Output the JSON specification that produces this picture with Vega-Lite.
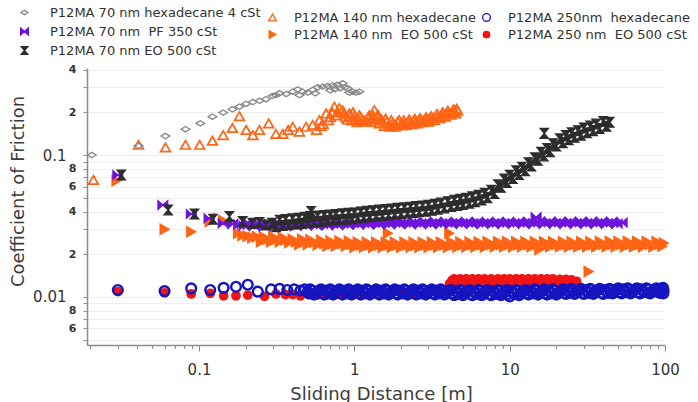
{
  "$schema": "https://vega.github.io/schema/vega-lite/v6.json",
  "width": 578,
  "height": 277,
  "autosize": {"type": "none"},
  "padding": {"left": 87, "top": 68, "right": 33, "bottom": 57},
  "background": "white",
  "datasets": {
    "runs": [
      {"k": "A", "run": "P12MA 70 nm hexadecane 4 cSt"},
      {"k": "B", "run": "P12MA 140 nm hexadecane"},
      {"k": "F", "run": "P12MA 250nm\u00a0 hexadecane"},
      {"k": "C", "run": "P12MA 70 nm\u00a0 PF 350 cSt"},
      {"k": "E", "run": "P12MA 140 nm\u00a0 EO 500 cSt"},
      {"k": "G", "run": "P12MA 250 nm\u00a0 EO 500 cSt"},
      {"k": "D", "run": "P12MA 70 nm EO 500 cSt"}
    ],
    "points": [
      {"k":"E","x":0.0294,"y":0.066},{"k":"E","x":0.060,"y":0.030},{"k":"E","x":0.089,"y":0.0288},{"k":"E","x":0.117,"y":0.034},{"k":"E","x":0.143,"y":0.0345},{"k":"E","x":0.178,"y":0.0281},
      {"k":"E","x":0.19,"y":0.0272},{"k":"E","x":0.205,"y":0.0268},{"k":"E","x":0.22,"y":0.0262},{"k":"E","x":0.235,"y":0.0266},
      {"k":"E","x":0.25,"y":0.0245},{"k":"E","x":0.26,"y":0.0265},{"k":"E","x":0.275,"y":0.0255},{"k":"E","x":0.29,"y":0.0245},{"k":"E","x":0.30,"y":0.0265},{"k":"E","x":0.315,"y":0.0255},{"k":"E","x":0.33,"y":0.0245},{"k":"E","x":0.345,"y":0.0262},{"k":"E","x":0.36,"y":0.0252},{"k":"E","x":0.38,"y":0.0242},
      {"k":"E","x":0.40,"y":0.0255},{"k":"E","x":0.42,"y":0.0245},{"k":"E","x":0.44,"y":0.0235},{"k":"E","x":0.46,"y":0.0255},{"k":"E","x":0.48,"y":0.0245},{"k":"E","x":0.50,"y":0.0235},{"k":"E","x":0.52,"y":0.0253},{"k":"E","x":0.55,"y":0.0243},{"k":"E","x":0.58,"y":0.0233},{"k":"E","x":0.61,"y":0.0251},
      {"k":"E","x":0.64,"y":0.0238},{"k":"E","x":0.67,"y":0.0229},{"k":"E","x":0.70,"y":0.0248},{"k":"E","x":0.73,"y":0.0238},{"k":"E","x":0.76,"y":0.0229},{"k":"E","x":0.80,"y":0.0248},{"k":"E","x":0.84,"y":0.0238},{"k":"E","x":0.88,"y":0.0229},{"k":"E","x":0.92,"y":0.0247},{"k":"E","x":0.96,"y":0.0236},
      {"k":"E","x":1.0,"y":0.0224},{"k":"E","x":1.05,"y":0.0243},{"k":"E","x":1.1,"y":0.0233},{"k":"E","x":1.15,"y":0.0224},{"k":"E","x":1.2,"y":0.0243},{"k":"E","x":1.26,"y":0.0233},{"k":"E","x":1.32,"y":0.0224},{"k":"E","x":1.38,"y":0.0243},{"k":"E","x":1.45,"y":0.0233},{"k":"E","x":1.52,"y":0.0224},
      {"k":"E","x":1.59,"y":0.0243},{"k":"E","x":1.64,"y":0.0281},{"k":"E","x":1.66,"y":0.0233},{"k":"E","x":1.74,"y":0.0224},{"k":"E","x":1.82,"y":0.0243},{"k":"E","x":1.9,"y":0.0233},{"k":"E","x":2.0,"y":0.0224},{"k":"E","x":2.1,"y":0.0243},{"k":"E","x":2.2,"y":0.0233},{"k":"E","x":2.3,"y":0.0224},
      {"k":"E","x":2.4,"y":0.0243},{"k":"E","x":2.5,"y":0.0233},{"k":"E","x":2.62,"y":0.0224},{"k":"E","x":2.75,"y":0.0243},{"k":"E","x":2.88,"y":0.0233},{"k":"E","x":3.0,"y":0.0224},{"k":"E","x":3.15,"y":0.0243},{"k":"E","x":3.3,"y":0.0233},{"k":"E","x":3.45,"y":0.0224},{"k":"E","x":3.6,"y":0.0243},
      {"k":"E","x":3.8,"y":0.0233},{"k":"E","x":4.0,"y":0.0224},{"k":"E","x":4.08,"y":0.0281},{"k":"E","x":4.2,"y":0.0244},{"k":"E","x":4.4,"y":0.0234},{"k":"E","x":4.6,"y":0.0225},{"k":"E","x":4.8,"y":0.0244},{"k":"E","x":5.0,"y":0.0234},{"k":"E","x":5.25,"y":0.0225},{"k":"E","x":5.5,"y":0.0244},
      {"k":"E","x":5.75,"y":0.0234},{"k":"E","x":6.0,"y":0.0225},{"k":"E","x":6.3,"y":0.0244},{"k":"E","x":6.6,"y":0.0234},{"k":"E","x":6.9,"y":0.0225},{"k":"E","x":7.2,"y":0.0245},{"k":"E","x":7.6,"y":0.0235},{"k":"E","x":8.0,"y":0.0226},{"k":"E","x":8.4,"y":0.0245},{"k":"E","x":8.8,"y":0.0235},
      {"k":"E","x":9.2,"y":0.0226},{"k":"E","x":9.6,"y":0.0245},{"k":"E","x":10,"y":0.0235},{"k":"E","x":10.5,"y":0.0226},{"k":"E","x":11,"y":0.0245},{"k":"E","x":11.5,"y":0.0235},{"k":"E","x":12,"y":0.0226},{"k":"E","x":12.6,"y":0.0245},{"k":"E","x":13.2,"y":0.0235},{"k":"E","x":13.8,"y":0.0226},
      {"k":"E","x":14.5,"y":0.0245},{"k":"E","x":15.2,"y":0.0235},{"k":"E","x":15.5,"y":0.0216},{"k":"E","x":15.9,"y":0.0226},{"k":"E","x":16.6,"y":0.0245},{"k":"E","x":17.4,"y":0.0235},{"k":"E","x":18.2,"y":0.0226},{"k":"E","x":19,"y":0.0245},{"k":"E","x":20,"y":0.0235},{"k":"E","x":21,"y":0.0226},
      {"k":"E","x":22,"y":0.0245},{"k":"E","x":23,"y":0.0235},{"k":"E","x":24,"y":0.0226},{"k":"E","x":25,"y":0.0245},{"k":"E","x":26.2,"y":0.0235},{"k":"E","x":27.5,"y":0.0226},{"k":"E","x":28.8,"y":0.0245},{"k":"E","x":30,"y":0.0235},{"k":"E","x":31.5,"y":0.0226},{"k":"E","x":33,"y":0.0245},
      {"k":"E","x":34.5,"y":0.0235},{"k":"E","x":36,"y":0.0226},{"k":"E","x":38,"y":0.0246},{"k":"E","x":40,"y":0.0236},{"k":"E","x":42,"y":0.0226},{"k":"E","x":44,"y":0.0246},{"k":"E","x":46,"y":0.0236},{"k":"E","x":48,"y":0.0226},{"k":"E","x":50,"y":0.0246},{"k":"E","x":52.5,"y":0.0236},
      {"k":"E","x":55,"y":0.0226},{"k":"E","x":57.5,"y":0.0246},{"k":"E","x":60,"y":0.0236},{"k":"E","x":63,"y":0.0226},{"k":"E","x":66,"y":0.0246},{"k":"E","x":69,"y":0.0236},{"k":"E","x":72,"y":0.0226},{"k":"E","x":76,"y":0.0246},{"k":"E","x":80,"y":0.0236},{"k":"E","x":84,"y":0.0226},
      {"k":"E","x":88,"y":0.0245},{"k":"E","x":92,"y":0.0236},{"k":"E","x":96,"y":0.0228},{"k":"E","x":98,"y":0.0240},{"k":"E","x":32.2,"y":0.0151},

      {"k":"C","x":0.030,"y":0.0723},{"k":"C","x":0.0585,"y":0.0444},{"k":"C","x":0.0892,"y":0.0384},{"k":"C","x":0.116,"y":0.0358},{"k":"C","x":0.143,"y":0.033},{"k":"C","x":0.165,"y":0.0327},
      {"k":"C","x":0.18,"y":0.0325},{"k":"C","x":0.195,"y":0.0318},{"k":"C","x":0.21,"y":0.0328},{"k":"C","x":0.227,"y":0.0316},{"k":"C","x":0.245,"y":0.0326},{"k":"C","x":0.265,"y":0.0315},{"k":"C","x":0.286,"y":0.0324},{"k":"C","x":0.31,"y":0.0316},{"k":"C","x":0.334,"y":0.0325},{"k":"C","x":0.36,"y":0.0317},
      {"k":"C","x":0.39,"y":0.0326},{"k":"C","x":0.42,"y":0.0318},{"k":"C","x":0.455,"y":0.0327},{"k":"C","x":0.49,"y":0.0319},{"k":"C","x":0.53,"y":0.0328},{"k":"C","x":0.57,"y":0.032},{"k":"C","x":0.62,"y":0.0329},{"k":"C","x":0.67,"y":0.0321},{"k":"C","x":0.72,"y":0.033},{"k":"C","x":0.78,"y":0.0322},
      {"k":"C","x":0.84,"y":0.0331},{"k":"C","x":0.91,"y":0.0323},{"k":"C","x":0.98,"y":0.0332},{"k":"C","x":1.06,"y":0.0324},{"k":"C","x":1.14,"y":0.0334},{"k":"C","x":1.23,"y":0.0325},{"k":"C","x":1.33,"y":0.0335},{"k":"C","x":1.44,"y":0.0326},{"k":"C","x":1.55,"y":0.0335},{"k":"C","x":1.68,"y":0.0326},
      {"k":"C","x":1.81,"y":0.0336},{"k":"C","x":1.95,"y":0.0327},{"k":"C","x":2.11,"y":0.0336},{"k":"C","x":2.28,"y":0.0327},{"k":"C","x":2.46,"y":0.0336},{"k":"C","x":2.66,"y":0.0327},{"k":"C","x":2.87,"y":0.0337},{"k":"C","x":3.1,"y":0.0327},{"k":"C","x":3.35,"y":0.0337},{"k":"C","x":3.62,"y":0.0328},
      {"k":"C","x":3.9,"y":0.0337},{"k":"C","x":4.2,"y":0.0328},{"k":"C","x":4.55,"y":0.0337},{"k":"C","x":4.9,"y":0.0328},{"k":"C","x":5.3,"y":0.0337},{"k":"C","x":5.7,"y":0.0328},{"k":"C","x":6.2,"y":0.0337},{"k":"C","x":6.7,"y":0.0328},{"k":"C","x":7.2,"y":0.0337},{"k":"C","x":7.8,"y":0.0328},
      {"k":"C","x":8.4,"y":0.0337},{"k":"C","x":9.1,"y":0.0328},{"k":"C","x":9.8,"y":0.0337},{"k":"C","x":10.6,"y":0.0328},{"k":"C","x":11.4,"y":0.0337},{"k":"C","x":12.3,"y":0.0328},{"k":"C","x":13.3,"y":0.0338},{"k":"C","x":14.4,"y":0.0329},{"k":"C","x":14.8,"y":0.0365},{"k":"C","x":15.5,"y":0.0338},
      {"k":"C","x":16.8,"y":0.0329},{"k":"C","x":18.1,"y":0.0338},{"k":"C","x":19.5,"y":0.0329},{"k":"C","x":21.1,"y":0.0338},{"k":"C","x":22.8,"y":0.0329},{"k":"C","x":24.6,"y":0.0338},{"k":"C","x":26.6,"y":0.0329},{"k":"C","x":28.7,"y":0.0338},{"k":"C","x":31,"y":0.0329},{"k":"C","x":33.5,"y":0.0338},
      {"k":"C","x":36.2,"y":0.0329},{"k":"C","x":39,"y":0.0338},{"k":"C","x":42.2,"y":0.0329},{"k":"C","x":45.5,"y":0.0338},{"k":"C","x":49.2,"y":0.0329},{"k":"C","x":53,"y":0.0334},

      {"k":"D","x":0.0316,"y":0.0723},{"k":"D","x":0.0633,"y":0.041},{"k":"D","x":0.0935,"y":0.0384},{"k":"D","x":0.123,"y":0.0353},{"k":"D","x":0.157,"y":0.0368},{"k":"D","x":0.191,"y":0.034},{"k":"D","x":0.22,"y":0.033},{"k":"D","x":0.245,"y":0.0335},{"k":"D","x":0.27,"y":0.0321},{"k":"D","x":0.295,"y":0.033},{"k":"D","x":0.313,"y":0.0313},
      {"k":"D","x":0.33,"y":0.0347},{"k":"D","x":0.345,"y":0.0319},{"k":"D","x":0.36,"y":0.0351},{"k":"D","x":0.38,"y":0.0323},{"k":"D","x":0.40,"y":0.0355},{"k":"D","x":0.42,"y":0.0327},{"k":"D","x":0.44,"y":0.0359},{"k":"D","x":0.46,"y":0.0330},{"k":"D","x":0.48,"y":0.0364},{"k":"D","x":0.50,"y":0.0334},
      {"k":"D","x":0.52,"y":0.0368},{"k":"D","x":0.527,"y":0.0400},{"k":"D","x":0.55,"y":0.0338},{"k":"D","x":0.58,"y":0.0372},{"k":"D","x":0.61,"y":0.0342},{"k":"D","x":0.64,"y":0.0375},{"k":"D","x":0.67,"y":0.0345},{"k":"D","x":0.70,"y":0.0378},{"k":"D","x":0.73,"y":0.0348},{"k":"D","x":0.76,"y":0.0381},
      {"k":"D","x":0.80,"y":0.0350},{"k":"D","x":0.84,"y":0.0385},{"k":"D","x":0.88,"y":0.0353},{"k":"D","x":0.92,"y":0.0388},{"k":"D","x":0.96,"y":0.0356},{"k":"D","x":1.0,"y":0.0391},{"k":"D","x":1.05,"y":0.0360},{"k":"D","x":1.1,"y":0.0397},{"k":"D","x":1.15,"y":0.0365},{"k":"D","x":1.2,"y":0.0401},
      {"k":"D","x":1.26,"y":0.0369},{"k":"D","x":1.32,"y":0.0405},{"k":"D","x":1.38,"y":0.0372},{"k":"D","x":1.45,"y":0.0409},{"k":"D","x":1.52,"y":0.0375},{"k":"D","x":1.59,"y":0.0413},{"k":"D","x":1.66,"y":0.0379},{"k":"D","x":1.74,"y":0.0417},{"k":"D","x":1.82,"y":0.0383},{"k":"D","x":1.9,"y":0.0421},
      {"k":"D","x":2.0,"y":0.0387},{"k":"D","x":2.1,"y":0.0425},{"k":"D","x":2.2,"y":0.0391},{"k":"D","x":2.3,"y":0.0429},{"k":"D","x":2.4,"y":0.0394},{"k":"D","x":2.5,"y":0.0434},{"k":"D","x":2.62,"y":0.0398},{"k":"D","x":2.75,"y":0.0438},{"k":"D","x":2.88,"y":0.0402},{"k":"D","x":3.0,"y":0.0442},
      {"k":"D","x":3.15,"y":0.0408},{"k":"D","x":3.3,"y":0.0450},{"k":"D","x":3.45,"y":0.0415},{"k":"D","x":3.6,"y":0.0459},{"k":"D","x":3.8,"y":0.0424},{"k":"D","x":4.0,"y":0.0469},{"k":"D","x":4.2,"y":0.0434},{"k":"D","x":4.4,"y":0.0479},{"k":"D","x":4.6,"y":0.0441},{"k":"D","x":4.8,"y":0.0487},
      {"k":"D","x":5.0,"y":0.0449},{"k":"D","x":5.25,"y":0.0496},{"k":"D","x":5.5,"y":0.0458},{"k":"D","x":5.75,"y":0.0507},{"k":"D","x":6.0,"y":0.0468},{"k":"D","x":6.3,"y":0.0520},{"k":"D","x":6.6,"y":0.0483},{"k":"D","x":6.9,"y":0.0537},{"k":"D","x":7.2,"y":0.0501},{"k":"D","x":7.6,"y":0.0564},
      {"k":"D","x":8.0,"y":0.0535},{"k":"D","x":8.4,"y":0.0617},{"k":"D","x":8.8,"y":0.0592},{"k":"D","x":9.2,"y":0.0677},{"k":"D","x":9.6,"y":0.0640},{"k":"D","x":10,"y":0.0721},{"k":"D","x":10.5,"y":0.0683},{"k":"D","x":11,"y":0.0773},{"k":"D","x":11.5,"y":0.0728},{"k":"D","x":12,"y":0.0820},
      {"k":"D","x":12.6,"y":0.0774},{"k":"D","x":13.2,"y":0.0883},{"k":"D","x":13.8,"y":0.0836},{"k":"D","x":14.5,"y":0.0956},{"k":"D","x":15.2,"y":0.0917},{"k":"D","x":15.9,"y":0.1045},{"k":"D","x":16.6,"y":0.0984},{"k":"D","x":16.7,"y":0.1420},{"k":"D","x":17.4,"y":0.1113},{"k":"D","x":18.2,"y":0.1055},
      {"k":"D","x":19,"y":0.1202},{"k":"D","x":20,"y":0.1156},{"k":"D","x":21,"y":0.1301},{"k":"D","x":22,"y":0.1222},{"k":"D","x":23,"y":0.1369},{"k":"D","x":24,"y":0.1280},{"k":"D","x":25,"y":0.1432},{"k":"D","x":26.2,"y":0.1332},{"k":"D","x":27.5,"y":0.1484},{"k":"D","x":28.8,"y":0.1380},
      {"k":"D","x":30,"y":0.1547},{"k":"D","x":31.5,"y":0.1433},{"k":"D","x":33,"y":0.1599},{"k":"D","x":34.5,"y":0.1485},{"k":"D","x":36,"y":0.1651},{"k":"D","x":38,"y":0.1538},{"k":"D","x":40,"y":0.1724},{"k":"D","x":42,"y":0.1595},{"k":"D","x":44,"y":0.1700},

      {"k":"B","x":0.0209,"y":0.0667},{"k":"B","x":0.0408,"y":0.118},{"k":"B","x":0.0608,"y":0.113},{"k":"B","x":0.0818,"y":0.118},{"k":"B","x":0.101,"y":0.118},{"k":"B","x":0.122,"y":0.126},{"k":"B","x":0.143,"y":0.138},{"k":"B","x":0.164,"y":0.155},{"k":"B","x":0.182,"y":0.188},{"k":"B","x":0.201,"y":0.150},
      {"k":"B","x":0.222,"y":0.138},{"k":"B","x":0.245,"y":0.150},{"k":"B","x":0.281,"y":0.167},{"k":"B","x":0.313,"y":0.141},{"k":"B","x":0.346,"y":0.141},{"k":"B","x":0.375,"y":0.150},{"k":"B","x":0.401,"y":0.158},{"k":"B","x":0.443,"y":0.146},{"k":"B","x":0.489,"y":0.158},{"k":"B","x":0.539,"y":0.163},
      {"k":"B","x":0.57,"y":0.150},{"k":"B","x":0.596,"y":0.176},{"k":"B","x":0.61,"y":0.160},{"k":"B","x":0.63,"y":0.165},{"k":"B","x":0.658,"y":0.196},{"k":"B","x":0.68,"y":0.176},{"k":"B","x":0.70,"y":0.185},{"k":"B","x":0.72,"y":0.200},{"k":"B","x":0.744,"y":0.219},{"k":"B","x":0.76,"y":0.190},
      {"k":"B","x":0.78,"y":0.200},{"k":"B","x":0.80,"y":0.214},{"k":"B","x":0.841,"y":0.207},{"k":"B","x":0.86,"y":0.196},{"k":"B","x":0.88,"y":0.185},{"k":"B","x":0.90,"y":0.178},{"k":"B","x":0.929,"y":0.196},{"k":"B","x":0.94,"y":0.188},{"k":"B","x":0.96,"y":0.175},{"k":"B","x":0.98,"y":0.200},
      {"k":"B","x":1.0,"y":0.190},{"k":"B","x":1.02,"y":0.182},{"k":"B","x":1.04,"y":0.170},{"k":"B","x":1.06,"y":0.176},{"k":"B","x":1.077,"y":0.191},{"k":"B","x":1.1,"y":0.185},{"k":"B","x":1.12,"y":0.178},{"k":"B","x":1.16,"y":0.174},{"k":"B","x":1.2,"y":0.172},{"k":"B","x":1.22,"y":0.183},
      {"k":"B","x":1.25,"y":0.191},{"k":"B","x":1.28,"y":0.172},{"k":"B","x":1.3,"y":0.180},{"k":"B","x":1.32,"y":0.190},{"k":"B","x":1.345,"y":0.207},{"k":"B","x":1.37,"y":0.178},{"k":"B","x":1.4,"y":0.185},{"k":"B","x":1.42,"y":0.192},{"k":"B","x":1.448,"y":0.167},{"k":"B","x":1.47,"y":0.176},
      {"k":"B","x":1.5,"y":0.178},{"k":"B","x":1.53,"y":0.168},{"k":"B","x":1.56,"y":0.160},{"k":"B","x":1.59,"y":0.180},{"k":"B","x":1.62,"y":0.172},{"k":"B","x":1.66,"y":0.162},{"k":"B","x":1.7,"y":0.158},{"k":"B","x":1.73,"y":0.176},{"k":"B","x":1.76,"y":0.168},{"k":"B","x":1.8,"y":0.164},
      {"k":"B","x":1.83,"y":0.158},{"k":"B","x":1.87,"y":0.162},{"k":"B","x":1.9,"y":0.172},{"k":"B","x":1.95,"y":0.176},{"k":"B","x":2.0,"y":0.162},{"k":"B","x":2.04,"y":0.168},{"k":"B","x":2.08,"y":0.176},{"k":"B","x":2.12,"y":0.166},{"k":"B","x":2.16,"y":0.162},{"k":"B","x":2.21,"y":0.172},
      {"k":"B","x":2.26,"y":0.178},{"k":"B","x":2.3,"y":0.170},{"k":"B","x":2.35,"y":0.165},{"k":"B","x":2.4,"y":0.174},{"k":"B","x":2.45,"y":0.180},{"k":"B","x":2.5,"y":0.172},{"k":"B","x":2.55,"y":0.167},{"k":"B","x":2.6,"y":0.176},{"k":"B","x":2.65,"y":0.182},{"k":"B","x":2.7,"y":0.176},
      {"k":"B","x":2.76,"y":0.170},{"k":"B","x":2.82,"y":0.178},{"k":"B","x":2.89,"y":0.184},{"k":"B","x":2.95,"y":0.180},{"k":"B","x":3.0,"y":0.172},{"k":"B","x":3.06,"y":0.182},{"k":"B","x":3.13,"y":0.188},{"k":"B","x":3.2,"y":0.182},{"k":"B","x":3.27,"y":0.176},{"k":"B","x":3.33,"y":0.186},
      {"k":"B","x":3.4,"y":0.195},{"k":"B","x":3.48,"y":0.188},{"k":"B","x":3.55,"y":0.182},{"k":"B","x":3.62,"y":0.190},{"k":"B","x":3.70,"y":0.200},{"k":"B","x":3.77,"y":0.194},{"k":"B","x":3.85,"y":0.186},{"k":"B","x":3.92,"y":0.196},{"k":"B","x":4.0,"y":0.205},{"k":"B","x":4.09,"y":0.198},
      {"k":"B","x":4.18,"y":0.192},{"k":"B","x":4.26,"y":0.200},{"k":"B","x":4.35,"y":0.210},{"k":"B","x":4.43,"y":0.203},{"k":"B","x":4.5,"y":0.196},{"k":"B","x":4.56,"y":0.212},{"k":"B","x":4.62,"y":0.205},

      {"k":"A","x":0.0204,"y":0.100},{"k":"A","x":0.0408,"y":0.116},{"k":"A","x":0.0608,"y":0.136},{"k":"A","x":0.0818,"y":0.152},{"k":"A","x":0.102,"y":0.167},{"k":"A","x":0.122,"y":0.186},{"k":"A","x":0.143,"y":0.199},{"k":"A","x":0.164,"y":0.210},{"k":"A","x":0.182,"y":0.219},{"k":"A","x":0.201,"y":0.229},
      {"k":"A","x":0.222,"y":0.236},{"k":"A","x":0.245,"y":0.241},{"k":"A","x":0.27,"y":0.247},{"k":"A","x":0.298,"y":0.261},{"k":"A","x":0.313,"y":0.264},{"k":"A","x":0.329,"y":0.272},{"k":"A","x":0.364,"y":0.269},{"k":"A","x":0.401,"y":0.279},{"k":"A","x":0.432,"y":0.290},{"k":"A","x":0.443,"y":0.264},
      {"k":"A","x":0.465,"y":0.279},{"k":"A","x":0.501,"y":0.275},{"k":"A","x":0.539,"y":0.287},{"k":"A","x":0.56,"y":0.272},{"k":"A","x":0.581,"y":0.300},{"k":"A","x":0.626,"y":0.303},{"k":"A","x":0.674,"y":0.306},{"k":"A","x":0.70,"y":0.285},{"k":"A","x":0.725,"y":0.310},{"k":"A","x":0.75,"y":0.290},
      {"k":"A","x":0.781,"y":0.313},{"k":"A","x":0.81,"y":0.295},{"k":"A","x":0.841,"y":0.320},{"k":"A","x":0.87,"y":0.300},{"k":"A","x":0.906,"y":0.295},{"k":"A","x":0.93,"y":0.275},{"k":"A","x":0.975,"y":0.279},{"k":"A","x":1.025,"y":0.275},{"k":"A","x":1.077,"y":0.279},

      {"k":"G","x":0.030,"y":0.0109},{"k":"G","x":0.060,"y":0.0107},{"k":"G","x":0.089,"y":0.0105},{"k":"G","x":0.118,"y":0.0106},{"k":"G","x":0.144,"y":0.0102},{"k":"G","x":0.173,"y":0.0102},{"k":"G","x":0.206,"y":0.0103},{"k":"G","x":0.264,"y":0.0101},{"k":"G","x":0.313,"y":0.0105},{"k":"G","x":0.36,"y":0.0104},
      {"k":"G","x":0.401,"y":0.0104},{"k":"G","x":0.45,"y":0.0102},{"k":"G","x":0.514,"y":0.0104},{"k":"G","x":0.58,"y":0.0103},{"k":"G","x":0.658,"y":0.0103},{"k":"G","x":0.75,"y":0.0104},{"k":"G","x":0.841,"y":0.0103},{"k":"G","x":0.95,"y":0.0104},{"k":"G","x":1.077,"y":0.0105},{"k":"G","x":1.25,"y":0.0104},
      {"k":"G","x":1.45,"y":0.0106},{"k":"G","x":1.7,"y":0.0105},{"k":"G","x":2.0,"y":0.0106},{"k":"G","x":2.4,"y":0.0105},{"k":"G","x":2.9,"y":0.0107},{"k":"G","x":3.4,"y":0.0106},{"k":"G","x":3.8,"y":0.0112},
      {"k":"G","x":4.1,"y":0.0124},{"k":"G","x":4.25,"y":0.0131},{"k":"G","x":4.4,"y":0.0134},{"k":"G","x":4.6,"y":0.0128},{"k":"G","x":4.8,"y":0.0134},{"k":"G","x":5.0,"y":0.0128},{"k":"G","x":5.25,"y":0.0134},{"k":"G","x":5.5,"y":0.0128},{"k":"G","x":5.75,"y":0.0134},{"k":"G","x":6.0,"y":0.0128},
      {"k":"G","x":6.3,"y":0.0134},{"k":"G","x":6.6,"y":0.0128},{"k":"G","x":6.9,"y":0.0134},{"k":"G","x":7.2,"y":0.0128},{"k":"G","x":7.6,"y":0.0134},{"k":"G","x":8.0,"y":0.0128},{"k":"G","x":8.4,"y":0.0134},{"k":"G","x":8.8,"y":0.0128},{"k":"G","x":9.2,"y":0.0134},{"k":"G","x":9.6,"y":0.0128},
      {"k":"G","x":10,"y":0.0134},{"k":"G","x":10.5,"y":0.0128},{"k":"G","x":11,"y":0.0134},{"k":"G","x":11.5,"y":0.0128},{"k":"G","x":12,"y":0.0134},{"k":"G","x":12.6,"y":0.0128},{"k":"G","x":13.2,"y":0.0134},{"k":"G","x":13.8,"y":0.0128},{"k":"G","x":14.5,"y":0.0134},{"k":"G","x":15.2,"y":0.0128},
      {"k":"G","x":15.9,"y":0.0134},{"k":"G","x":16.6,"y":0.0128},{"k":"G","x":17.4,"y":0.0134},{"k":"G","x":18.2,"y":0.0128},{"k":"G","x":19,"y":0.0134},{"k":"G","x":20,"y":0.0128},{"k":"G","x":21,"y":0.0133},{"k":"G","x":22,"y":0.0128},{"k":"G","x":23,"y":0.0133},{"k":"G","x":24,"y":0.0128},
      {"k":"G","x":25,"y":0.0132},{"k":"G","x":26,"y":0.0127},{"k":"G","x":27,"y":0.0129},

      {"k":"F","x":0.030,"y":0.0112},{"k":"F","x":0.060,"y":0.0110},{"k":"F","x":0.089,"y":0.0115},{"k":"F","x":0.118,"y":0.0112},{"k":"F","x":0.144,"y":0.0116},{"k":"F","x":0.173,"y":0.0118},{"k":"F","x":0.206,"y":0.0122},{"k":"F","x":0.239,"y":0.0109},{"k":"F","x":0.291,"y":0.0113},{"k":"F","x":0.33,"y":0.0114},
      {"k":"F","x":0.37,"y":0.0112},{"k":"F","x":0.41,"y":0.0113},{"k":"F","x":0.45,"y":0.0111},{"k":"F","x":0.48,"y":0.0113},
      {"k":"F","x":0.50,"y":0.0109},{"k":"F","x":0.52,"y":0.0113},{"k":"F","x":0.55,"y":0.0104},{"k":"F","x":0.58,"y":0.0109},{"k":"F","x":0.61,"y":0.0113},{"k":"F","x":0.64,"y":0.0104},{"k":"F","x":0.67,"y":0.0109},{"k":"F","x":0.70,"y":0.0113},{"k":"F","x":0.73,"y":0.0104},{"k":"F","x":0.76,"y":0.0109},
      {"k":"F","x":0.80,"y":0.0113},{"k":"F","x":0.84,"y":0.0104},{"k":"F","x":0.88,"y":0.0109},{"k":"F","x":0.92,"y":0.0113},{"k":"F","x":0.96,"y":0.0104},{"k":"F","x":1.0,"y":0.0109},{"k":"F","x":1.05,"y":0.0113},{"k":"F","x":1.1,"y":0.0104},{"k":"F","x":1.15,"y":0.0109},{"k":"F","x":1.2,"y":0.0113},
      {"k":"F","x":1.26,"y":0.0104},{"k":"F","x":1.32,"y":0.0109},{"k":"F","x":1.38,"y":0.0113},{"k":"F","x":1.45,"y":0.0104},{"k":"F","x":1.52,"y":0.0109},{"k":"F","x":1.59,"y":0.0113},{"k":"F","x":1.66,"y":0.0104},{"k":"F","x":1.74,"y":0.0109},{"k":"F","x":1.82,"y":0.0113},{"k":"F","x":1.9,"y":0.0104},
      {"k":"F","x":2.0,"y":0.0109},{"k":"F","x":2.1,"y":0.0113},{"k":"F","x":2.2,"y":0.0104},{"k":"F","x":2.3,"y":0.0109},{"k":"F","x":2.4,"y":0.0113},{"k":"F","x":2.5,"y":0.0104},{"k":"F","x":2.62,"y":0.0109},{"k":"F","x":2.75,"y":0.0113},{"k":"F","x":2.88,"y":0.0104},{"k":"F","x":3.0,"y":0.0109},
      {"k":"F","x":3.15,"y":0.0113},{"k":"F","x":3.3,"y":0.0104},{"k":"F","x":3.45,"y":0.0109},{"k":"F","x":3.6,"y":0.0113},{"k":"F","x":3.8,"y":0.0104},{"k":"F","x":4.0,"y":0.0109},{"k":"F","x":4.2,"y":0.0112},{"k":"F","x":4.4,"y":0.0103},{"k":"F","x":4.6,"y":0.0108},{"k":"F","x":4.8,"y":0.0112},
      {"k":"F","x":5.0,"y":0.0103},{"k":"F","x":5.25,"y":0.0108},{"k":"F","x":5.5,"y":0.0112},{"k":"F","x":5.75,"y":0.0103},{"k":"F","x":6.0,"y":0.0108},{"k":"F","x":6.3,"y":0.0112},{"k":"F","x":6.6,"y":0.0103},{"k":"F","x":6.9,"y":0.0108},{"k":"F","x":7.2,"y":0.0112},{"k":"F","x":7.6,"y":0.0103},
      {"k":"F","x":8.0,"y":0.0108},{"k":"F","x":8.4,"y":0.0112},{"k":"F","x":8.8,"y":0.0103},{"k":"F","x":9.2,"y":0.0108},{"k":"F","x":9.6,"y":0.0112},{"k":"F","x":10,"y":0.0101},{"k":"F","x":10.5,"y":0.0108},{"k":"F","x":11,"y":0.0112},{"k":"F","x":11.5,"y":0.0103},{"k":"F","x":12,"y":0.0108},
      {"k":"F","x":12.6,"y":0.0112},{"k":"F","x":13.2,"y":0.0104},{"k":"F","x":13.8,"y":0.0109},{"k":"F","x":14.5,"y":0.0113},{"k":"F","x":15.2,"y":0.0104},{"k":"F","x":15.9,"y":0.0109},{"k":"F","x":16.6,"y":0.0113},{"k":"F","x":17.4,"y":0.0104},{"k":"F","x":18.2,"y":0.0109},{"k":"F","x":19,"y":0.0113},
      {"k":"F","x":20,"y":0.0104},{"k":"F","x":21,"y":0.0109},{"k":"F","x":22,"y":0.0113},{"k":"F","x":23,"y":0.0105},{"k":"F","x":24,"y":0.0110},{"k":"F","x":25,"y":0.0114},{"k":"F","x":26.2,"y":0.0105},{"k":"F","x":27.5,"y":0.0110},{"k":"F","x":28.8,"y":0.0114},{"k":"F","x":30,"y":0.0105},
      {"k":"F","x":31.5,"y":0.0110},{"k":"F","x":33,"y":0.0114},{"k":"F","x":34.5,"y":0.0105},{"k":"F","x":36,"y":0.0110},{"k":"F","x":38,"y":0.0114},{"k":"F","x":40,"y":0.0105},{"k":"F","x":42,"y":0.0110},{"k":"F","x":44,"y":0.0114},{"k":"F","x":46,"y":0.0106},{"k":"F","x":48,"y":0.0111},
      {"k":"F","x":50,"y":0.0115},{"k":"F","x":52.5,"y":0.0106},{"k":"F","x":55,"y":0.0111},{"k":"F","x":57.5,"y":0.0115},{"k":"F","x":60,"y":0.0106},{"k":"F","x":63,"y":0.0111},{"k":"F","x":66,"y":0.0115},{"k":"F","x":69,"y":0.0106},{"k":"F","x":72,"y":0.0111},{"k":"F","x":76,"y":0.0115},
      {"k":"F","x":80,"y":0.0106},{"k":"F","x":84,"y":0.0111},{"k":"F","x":88,"y":0.0115},{"k":"F","x":92,"y":0.0107},{"k":"F","x":94,"y":0.0113},{"k":"F","x":96,"y":0.0110},{"k":"F","x":97,"y":0.0116},{"k":"F","x":97.5,"y":0.0106},
      {"k":"F","x":0.51,"y":0.0106},{"k":"F","x":0.535,"y":0.0111},{"k":"F","x":0.565,"y":0.0106},{"k":"F","x":0.595,"y":0.0111},{"k":"F","x":0.625,"y":0.0106},{"k":"F","x":0.655,"y":0.0111},{"k":"F","x":0.685,"y":0.0106},{"k":"F","x":0.715,"y":0.0111},{"k":"F","x":0.745,"y":0.0106},{"k":"F","x":0.78,"y":0.0111},
      {"k":"F","x":0.82,"y":0.0106},{"k":"F","x":0.86,"y":0.0111},{"k":"F","x":0.90,"y":0.0106},{"k":"F","x":0.94,"y":0.0111},{"k":"F","x":0.98,"y":0.0106},{"k":"F","x":1.025,"y":0.0111},{"k":"F","x":1.075,"y":0.0106},{"k":"F","x":1.125,"y":0.0111},{"k":"F","x":1.175,"y":0.0106},{"k":"F","x":1.23,"y":0.0111},
      {"k":"F","x":1.29,"y":0.0106},{"k":"F","x":1.35,"y":0.0111},{"k":"F","x":1.415,"y":0.0106},{"k":"F","x":1.485,"y":0.0111},{"k":"F","x":1.555,"y":0.0106},{"k":"F","x":1.625,"y":0.0111},{"k":"F","x":1.7,"y":0.0106},{"k":"F","x":1.78,"y":0.0111},{"k":"F","x":1.86,"y":0.0106},{"k":"F","x":1.95,"y":0.0111},
      {"k":"F","x":2.05,"y":0.0106},{"k":"F","x":2.15,"y":0.0111},{"k":"F","x":2.25,"y":0.0106},{"k":"F","x":2.35,"y":0.0111},{"k":"F","x":2.45,"y":0.0106},{"k":"F","x":2.56,"y":0.0111},{"k":"F","x":2.68,"y":0.0106},{"k":"F","x":2.81,"y":0.0111},{"k":"F","x":2.94,"y":0.0106},{"k":"F","x":3.07,"y":0.0111},
      {"k":"F","x":3.22,"y":0.0106},{"k":"F","x":3.37,"y":0.0111},{"k":"F","x":3.52,"y":0.0106},{"k":"F","x":3.7,"y":0.0111},{"k":"F","x":3.9,"y":0.0106},{"k":"F","x":4.1,"y":0.0111},{"k":"F","x":4.3,"y":0.0106},{"k":"F","x":4.5,"y":0.0110},{"k":"F","x":4.7,"y":0.0105},{"k":"F","x":4.9,"y":0.0110},
      {"k":"F","x":5.12,"y":0.0105},{"k":"F","x":5.37,"y":0.0110},{"k":"F","x":5.62,"y":0.0105},{"k":"F","x":5.87,"y":0.0110},{"k":"F","x":6.15,"y":0.0105},{"k":"F","x":6.45,"y":0.0110},{"k":"F","x":6.75,"y":0.0105},{"k":"F","x":7.05,"y":0.0110},{"k":"F","x":7.4,"y":0.0105},{"k":"F","x":7.8,"y":0.0110},
      {"k":"F","x":8.2,"y":0.0105},{"k":"F","x":8.6,"y":0.0110},{"k":"F","x":9.0,"y":0.0105},{"k":"F","x":9.4,"y":0.0110},{"k":"F","x":9.8,"y":0.0105},{"k":"F","x":10.25,"y":0.0110},{"k":"F","x":10.75,"y":0.0105},{"k":"F","x":11.25,"y":0.0110},{"k":"F","x":11.75,"y":0.0105},{"k":"F","x":12.3,"y":0.0110},
      {"k":"F","x":12.9,"y":0.0106},{"k":"F","x":13.5,"y":0.0111},{"k":"F","x":14.15,"y":0.0106},{"k":"F","x":14.85,"y":0.0111},{"k":"F","x":15.55,"y":0.0106},{"k":"F","x":16.25,"y":0.0111},{"k":"F","x":17.0,"y":0.0106},{"k":"F","x":17.8,"y":0.0111},{"k":"F","x":18.6,"y":0.0106},{"k":"F","x":19.5,"y":0.0111},
      {"k":"F","x":20.5,"y":0.0106},{"k":"F","x":21.5,"y":0.0111},{"k":"F","x":22.5,"y":0.0107},{"k":"F","x":23.5,"y":0.0112},{"k":"F","x":24.5,"y":0.0107},{"k":"F","x":25.6,"y":0.0112},{"k":"F","x":26.8,"y":0.0107},{"k":"F","x":28.1,"y":0.0112},{"k":"F","x":29.4,"y":0.0107},{"k":"F","x":30.7,"y":0.0112},
      {"k":"F","x":32.2,"y":0.0107},{"k":"F","x":33.7,"y":0.0112},{"k":"F","x":35.2,"y":0.0107},{"k":"F","x":37,"y":0.0112},{"k":"F","x":39,"y":0.0107},{"k":"F","x":41,"y":0.0112},{"k":"F","x":43,"y":0.0107},{"k":"F","x":45,"y":0.0112},{"k":"F","x":47,"y":0.0108},{"k":"F","x":49,"y":0.0113},
      {"k":"F","x":51.2,"y":0.0108},{"k":"F","x":53.7,"y":0.0113},{"k":"F","x":56.2,"y":0.0108},{"k":"F","x":58.7,"y":0.0113},{"k":"F","x":61.5,"y":0.0108},{"k":"F","x":64.5,"y":0.0113},{"k":"F","x":67.5,"y":0.0108},{"k":"F","x":70.5,"y":0.0113},{"k":"F","x":74,"y":0.0108},{"k":"F","x":78,"y":0.0113},
      {"k":"F","x":82,"y":0.0108},{"k":"F","x":86,"y":0.0113},{"k":"F","x":90,"y":0.0109},{"k":"F","x":93,"y":0.0114},{"k":"F","x":95,"y":0.0108},{"k":"F","x":96.5,"y":0.0113},{"k":"F","x":98,"y":0.0111}
    ]
  },
  "data": {"name": "points"},
  "transform": [
    {"lookup": "k", "from": {"data": {"name": "runs"}, "key": "k", "fields": ["run"]}}
  ],
  "encoding": {
    "x": {
      "field": "x",
      "type": "quantitative",
      "scale": {"type": "log", "domain": [0.019, 100], "nice": false},
      "axis": {
        "values": [0.02, 0.03, 0.04, 0.05, 0.06, 0.07, 0.08, 0.09, 0.1, 0.2, 0.3, 0.4, 0.5, 0.6, 0.7, 0.8, 0.9, 1, 2, 3, 4, 5, 6, 7, 8, 9, 10, 20, 30, 40, 50, 60, 70, 80, 90, 100],
        "labelExpr": "datum.value == 0.1 ? '0.1' : datum.value == 1 ? '1' : datum.value == 10 ? '10' : datum.value == 100 ? '100' : ''",
        "labelFontSize": 15,
        "labelPadding": 11,
        "tickSize": {"condition": {"test": "datum.value == 0.1 || datum.value == 1 || datum.value == 10 || datum.value == 100", "value": 6}, "value": 3.5},
        "grid": false,
        "title": "Sliding Distance [m]",
        "titleX": 294,
        "titleY": 40,
        "titleBaseline": "top",
        "titleAlign": "center"
      }
    },
    "y": {
      "field": "y",
      "type": "quantitative",
      "scale": {"type": "log", "domain": [0.00459, 0.41], "nice": false},
      "axis": {
        "values": [0.005, 0.006, 0.007, 0.008, 0.009, 0.01, 0.02, 0.03, 0.04, 0.05, 0.06, 0.07, 0.08, 0.09, 0.1, 0.2, 0.3, 0.4],
        "labelExpr": "datum.value == 0.1 ? '0.1' : datum.value == 0.01 ? '0.01' : (datum.value == 0.4 || datum.value == 0.04) ? '4' : (datum.value == 0.2 || datum.value == 0.02) ? '2' : (datum.value == 0.08 || datum.value == 0.008) ? '8' : (datum.value == 0.06 || datum.value == 0.006) ? '6' : ''",
        "labelFontSize": {"condition": {"test": "datum.value == 0.1 || datum.value == 0.01", "value": 15}, "value": 11},
        "labelFontWeight": {"condition": {"test": "datum.value == 0.1 || datum.value == 0.01", "value": "normal"}, "value": "bold"},
        "labelPadding": {"condition": {"test": "datum.value == 0.1 || datum.value == 0.01", "value": 17}, "value": 7},
        "tickSize": 4,
        "grid": true,
        "gridColor": "#eeeeee",
        "gridWidth": 1,
        "title": "Coefficient of Friction",
        "titleX": -64,
        "titleY": 123,
        "titleBaseline": "alphabetic",
        "titleAlign": "center",
        "titleAngle": 270
      }
    }
  },
  "layer": [
    {
      "transform": [{"filter": {"field": "k", "oneOf": ["E", "B"]}}],
      "mark": {"type": "point", "opacity": 1, "strokeWidth": 1.7, "size": 95},
      "encoding": {
        "shape": {
          "field": "run", "type": "nominal",
          "scale": {"domain": ["P12MA 140 nm hexadecane", "P12MA 140 nm\u00a0 EO 500 cSt"], "range": ["triangle-up", "triangle-right"]},
          "legend": {"title": null, "legendX": 179, "legendY": -57, "rowPadding": 3, "labelOffset": 15}
        },
        "fill": {
          "field": "run", "type": "nominal",
          "scale": {"domain": ["P12MA 140 nm hexadecane", "P12MA 140 nm\u00a0 EO 500 cSt"], "range": ["transparent", "#ff6414"]},
          "legend": {"title": null, "legendX": 179, "legendY": -57, "rowPadding": 3, "labelOffset": 15}
        },
        "stroke": {
          "field": "run", "type": "nominal",
          "scale": {"domain": ["P12MA 140 nm hexadecane", "P12MA 140 nm\u00a0 EO 500 cSt"], "range": ["#ff6414", "#ff6414"]},
          "legend": {"title": null, "legendX": 179, "legendY": -57, "rowPadding": 3, "labelOffset": 15}
        }
      }
    },
    {
      "transform": [{"filter": {"field": "k", "oneOf": ["C", "D", "A"]}}],
      "mark": {"type": "point", "opacity": 1, "strokeWidth": 1.3, "size": 95},
      "encoding": {
        "shape": {
          "field": "run", "type": "nominal",
          "scale": {"domain": ["P12MA 70 nm hexadecane 4 cSt", "P12MA 70 nm\u00a0 PF 350 cSt", "P12MA 70 nm EO 500 cSt"], "range": ["M-0.9,0L0,-0.55L0.9,0L0,0.55Z", "M-1,-0.9L0,0L-1,0.9ZM1,-0.9L0,0L1,0.9Z", "M-0.85,-1L0.85,-1L0,0L0.85,1L-0.85,1L0,0Z"]},
          "legend": {"title": null, "legendX": -69, "legendY": -62, "rowPadding": 5, "labelOffset": 19}
        },
        "fill": {
          "field": "run", "type": "nominal",
          "scale": {"domain": ["P12MA 70 nm hexadecane 4 cSt", "P12MA 70 nm\u00a0 PF 350 cSt", "P12MA 70 nm EO 500 cSt"], "range": ["transparent", "#6e14dc", "#2d2d2d"]},
          "legend": {"title": null, "legendX": -69, "legendY": -62, "rowPadding": 5, "labelOffset": 19}
        },
        "stroke": {
          "field": "run", "type": "nominal",
          "scale": {"domain": ["P12MA 70 nm hexadecane 4 cSt", "P12MA 70 nm\u00a0 PF 350 cSt", "P12MA 70 nm EO 500 cSt"], "range": ["#888888", "#6e14dc", "#2d2d2d"]},
          "legend": {"title": null, "legendX": -69, "legendY": -62, "rowPadding": 5, "labelOffset": 19}
        }
      }
    },
    {
      "transform": [{"filter": {"field": "k", "oneOf": ["G", "F"]}}],
      "mark": {"type": "point", "opacity": 1, "strokeWidth": 2.4, "size": 95},
      "encoding": {
        "shape": {
          "field": "run", "type": "nominal",
          "scale": {"domain": ["P12MA 250nm\u00a0 hexadecane", "P12MA 250 nm\u00a0 EO 500 cSt"], "range": ["circle", "circle"]},
          "legend": {"title": null, "legendX": 393, "legendY": -57, "rowPadding": 3, "labelOffset": 15}
        },
        "fill": {
          "field": "run", "type": "nominal",
          "scale": {"domain": ["P12MA 250nm\u00a0 hexadecane", "P12MA 250 nm\u00a0 EO 500 cSt"], "range": ["transparent", "#f01414"]},
          "legend": {"title": null, "legendX": 393, "legendY": -57, "rowPadding": 3, "labelOffset": 15}
        },
        "stroke": {
          "field": "run", "type": "nominal",
          "scale": {"domain": ["P12MA 250nm\u00a0 hexadecane", "P12MA 250 nm\u00a0 EO 500 cSt"], "range": ["#1515c0", "transparent"]},
          "legend": {"title": null, "legendX": 393, "legendY": -57, "rowPadding": 3, "labelOffset": 15}
        }
      }
    }
  ],
  "resolve": {
    "scale": {"shape": "independent", "fill": "independent", "stroke": "independent"},
    "legend": {"shape": "independent", "fill": "independent", "stroke": "independent"}
  },
  "config": {
    "view": {"stroke": null},
    "font": "DejaVu Sans",
    "axis": {
      "labelFont": "DejaVu Sans",
      "titleFont": "DejaVu Sans",
      "domainColor": "#8c8c8c",
      "domainWidth": 1.5,
      "tickColor": "#8c8c8c",
      "tickWidth": 1,
      "labelColor": "#333333",
      "titleColor": "#3c3c3c",
      "titleFontWeight": "normal",
      "titleFontSize": 18,
      "labelOverlap": false,
      "labelBound": false,
      "labelFlush": false
    },
    "legend": {
      "orient": "none",
      "direction": "horizontal",
      "columns": 1,
      "padding": 0,
      "labelFont": "DejaVu Sans",
      "labelFontSize": 13,
      "labelColor": "#333333",
      "labelLimit": 400,
      "symbolSize": 60,
      "symbolStrokeWidth": 1.3
    }
  }
}
